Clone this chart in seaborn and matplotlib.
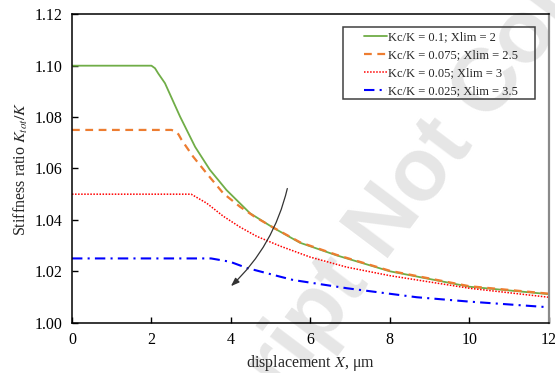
import numpy as np
import pandas as pd
import matplotlib
matplotlib.use("Agg")
import matplotlib.pyplot as plt
import matplotlib.patches as mpatches
import seaborn as sns

# ---- data ----
x_a = [0, 2.0, 2.09, 2.17, 2.34, 2.72, 3.10, 3.47, 3.89, 4.48, 5.07, 5.74, 6.66, 8.0, 10.0, 12.0]
y_a = [1.100, 1.100, 1.0990, 1.0970, 1.0932, 1.0802, 1.0684, 1.0595, 1.0516, 1.0426, 1.0369, 1.0311, 1.0262, 1.0200, 1.0140, 1.0111]

x_b = [0, 2.5, 2.59, 2.68, 2.76, 3.05, 3.39, 3.81, 4.23, 4.60, 5.07, 5.74, 6.66, 8.0, 10.0, 12.0]
y_b = [1.075, 1.075, 1.0746, 1.0733, 1.0711, 1.0646, 1.0581, 1.0503, 1.0451, 1.0412, 1.0370, 1.0313, 1.0264, 1.0202, 1.0142, 1.0113]

x_c = [0, 3.0, 3.39, 3.81, 4.23, 4.65, 5.24, 6.00, 6.92, 8.0, 10.0, 12.0]
y_c = [1.050, 1.050, 1.0465, 1.0414, 1.0372, 1.0336, 1.0298, 1.0255, 1.0216, 1.0183, 1.0134, 1.0099]

x_d = [0, 3.50, 3.98, 4.40, 5.24, 5.57, 6.92, 8.68, 10.0, 12.0]
y_d = [1.025, 1.025, 1.0237, 1.0213, 1.0179, 1.0166, 1.0134, 1.0099, 1.0082, 1.0060]

labels = ["Kc/K = 0.1; Xlim = 2", "Kc/K = 0.075; Xlim = 2.5",
          "Kc/K = 0.05; Xlim = 3", "Kc/K = 0.025; Xlim = 3.5"]
x_ticks = [0, 2, 4, 6, 8, 10, 12]
y_ticks = [1.00, 1.02, 1.04, 1.06, 1.08, 1.10, 1.12]

sns.set_style("ticks")
plt.rcParams["font.family"] = ["Liberation Serif", "DejaVu Serif"]
plt.rcParams["mathtext.fontset"] = "stix"

fig = plt.figure(figsize=(5.55, 3.73), dpi=100)
fig.patch.set_facecolor("white")

# watermark
wm_kw = dict(rotation=53, rotation_mode="anchor", va="baseline", fontsize=64,
             color="#e6e6e6", weight="bold", family="Liberation Sans", zorder=-5)
fig.text(0.694, 0.295, "Accepted Manuscript ", ha="right", **wm_kw)
fig.text(0.694, 0.295, "Not Copyedited", ha="left", **wm_kw)

ax = fig.add_axes([0.1297, 0.1349, 0.8590, 0.8268])
ax.set_facecolor("none")

series = [
    (x_a, y_a, "#70AD47", "-", 1.3),
    (x_b, y_b, "#ED7D31", (0, (3.5, 2.5)), 1.6),
    (x_c, y_c, "#FF0000", (0, (1, 1)), 1.1),
    (x_d, y_d, "#0000FF", (0, (5, 2.5, 1, 2.5)), 1.5),
]
handles = []
for (xs, ys, col, ls, lw), lab in zip(series, labels):
    df = pd.DataFrame({"x": xs, "y": ys})
    sns.lineplot(data=df, x="x", y="y", ax=ax, color=col, linestyle=ls,
                 linewidth=lw, sort=False, estimator=None)
    handles.append(matplotlib.lines.Line2D([], [], color=col, linestyle=ls, linewidth=lw))

ax.set_xlim(0, 12)
ax.set_ylim(1.00, 1.12)
ax.set_xticks(x_ticks)
ax.set_xticklabels([str(v) for v in x_ticks])
ax.set_yticks(y_ticks)
ax.set_yticklabels([f"{v:.2f}" for v in y_ticks])
ax.tick_params(direction="in", length=4, width=1, labelsize=11.5, colors="black",
               top=False, right=False)
ax.tick_params(axis="y", pad=7)
ax.tick_params(axis="x", pad=7)
for s in ["left", "bottom", "top"]:
    ax.spines[s].set_color("black")
    ax.spines[s].set_linewidth(1.1)
ax.spines["right"].set_color("#8a8a8a")
ax.spines["right"].set_linewidth(1.6)

ax.set_xlabel("displacement $X$, μm", fontsize=11.5, labelpad=3)
ax.set_ylabel("Stiffness ratio $K_{tot}/K$", fontsize=11.5, labelpad=3)

leg = ax.legend(handles, labels, loc="upper left", bbox_to_anchor=(0.608, 0.952),
                frameon=False, fontsize=9, handlelength=1.8, handletextpad=0.1,
                labelspacing=0.48, borderpad=0.2, borderaxespad=0)
# legend box
box = mpatches.Rectangle((0.5679, 0.7254), 0.4034, 0.2324,
                         transform=ax.transAxes, fill=False, edgecolor="#404040",
                         linewidth=1.1, zorder=5)
ax.add_patch(box)

# arrow indicating decreasing Kc/K
ax.annotate("", xy=(4.0, 1.0142), xytext=(5.42, 1.0522),
            arrowprops=dict(arrowstyle="-|>,head_length=0.5,head_width=0.18",
                            connectionstyle="arc3,rad=-0.15", color="#333333",
                            linewidth=0.9, shrinkA=0, shrinkB=0))

fig.savefig("out.png", dpi=100)
